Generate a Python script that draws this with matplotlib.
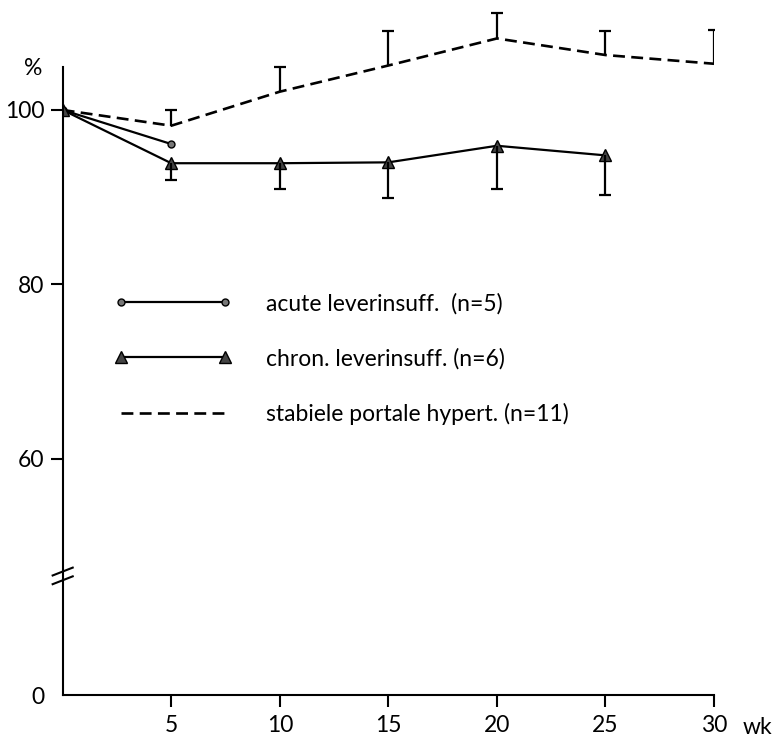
import matplotlib
matplotlib.use("Agg")
import matplotlib.pyplot as plt

plt.rcParams['font.family'] = ['Lato', 'DejaVu Sans']

# data (weeks, % of initial value)
wk_stab = [0, 5, 10, 15, 20, 25, 30]
stabiel = [100, 98.2, 102.1, 105.1, 108.2, 106.3, 105.3]
stabiel_top = [100.0, 104.9, 109.1, 111.1, 109.1, 109.2]   # upper SD, weeks 5..30

wk_acute = [0, 5]
acute = [100, 96.1]

wk_chron = [0, 5, 10, 15, 20, 25]
chron = [100, 93.9, 93.9, 94.0, 95.9, 94.8]
chron_low = [92.0, 91.0, 89.9, 91.0, 90.3]                # lower SD, weeks 5..25

xticks = [5, 10, 15, 20, 25, 30]
zero_pos = 32.95      # where "0" sits below the axis break
break_pos = 46.6

labels = ['acute leverinsuff.  (n=5)',
          'chron. leverinsuff. (n=6)',
          'stabiele portale hypert. (n=11)']

fs = 16.5

fig = plt.figure(figsize=(7.72, 7.36), dpi=100)
ax = fig.add_axes([0.0812, 0.0557, 0.8437, 0.9371])

lw = 1.6
l_stab, = ax.plot(wk_stab, stabiel, color='black', lw=lw + 0.3, ls=(0, (4.5, 2.4)))
l_acute, = ax.plot(wk_acute, acute, color='black', lw=lw, marker='o', ms=5,
                   mfc='#777777', mec='black', mew=1)
l_chron, = ax.plot(wk_chron, chron, color='black', lw=lw, marker='^', ms=9,
                   mfc='#444444', mec='black', mew=1)

# one-sided SD bars
ax.vlines(wk_stab[1:], stabiel[1:], stabiel_top, color='black', lw=lw)
ax.plot(wk_stab[1:], stabiel_top, ls='none', marker='_', ms=9, mew=lw, color='black')
ax.vlines(wk_chron[1:], chron_low, chron[1:], color='black', lw=lw)
ax.plot(wk_chron[1:], chron_low, ls='none', marker='_', ms=9, mew=lw, color='black')

ax.set_xlim(0, 30)
ax.set_ylim(zero_pos, 112)
for s in ['top', 'right']:
    ax.spines[s].set_visible(False)
ax.spines['left'].set_bounds(zero_pos, 104.93)
ax.spines['bottom'].set_bounds(0, 30)
for s in ['left', 'bottom']:
    ax.spines[s].set_linewidth(1.5)

ax.set_xticks(xticks)
ax.set_xticklabels([str(t) for t in xticks])
ax.set_yticks([zero_pos, 60, 80, 100])
ax.set_yticklabels(['0', '60', '80', '100'])
ax.tick_params(axis='both', direction='out', length=8.5, width=1.5, labelsize=fs)
ax.tick_params(axis='x', pad=6)
ax.tick_params(axis='y', pad=4.5)
ax.yaxis.get_major_ticks()[0].tick1line.set_visible(False)

# axis break marks
tr = ax.get_yaxis_transform()
for off in (-0.5, 0.5):
    ax.plot([-0.0154, 0.0154], [break_pos + off - 0.45, break_pos + off + 0.45],
            color='black', lw=1.5, transform=tr, clip_on=False)

ax.text(-0.046, 104.8, '%', transform=tr, ha='center', va='center', fontsize=fs)
ax.text(31.3, -0.0464, 'wk', ha='left', va='center', fontsize=fs,
        transform=ax.get_xaxis_transform(), clip_on=False)

leg = ax.legend([l_acute, l_chron, l_stab], labels, loc='upper left',
                bbox_to_anchor=(114 / 772, 1 - 293 / 736), bbox_transform=fig.transFigure,
                frameon=False, fontsize=fs, numpoints=2, handlelength=5.15,
                handletextpad=1.5, labelspacing=1.45, borderpad=0, borderaxespad=0)

fig.savefig('out.png', dpi=100)
